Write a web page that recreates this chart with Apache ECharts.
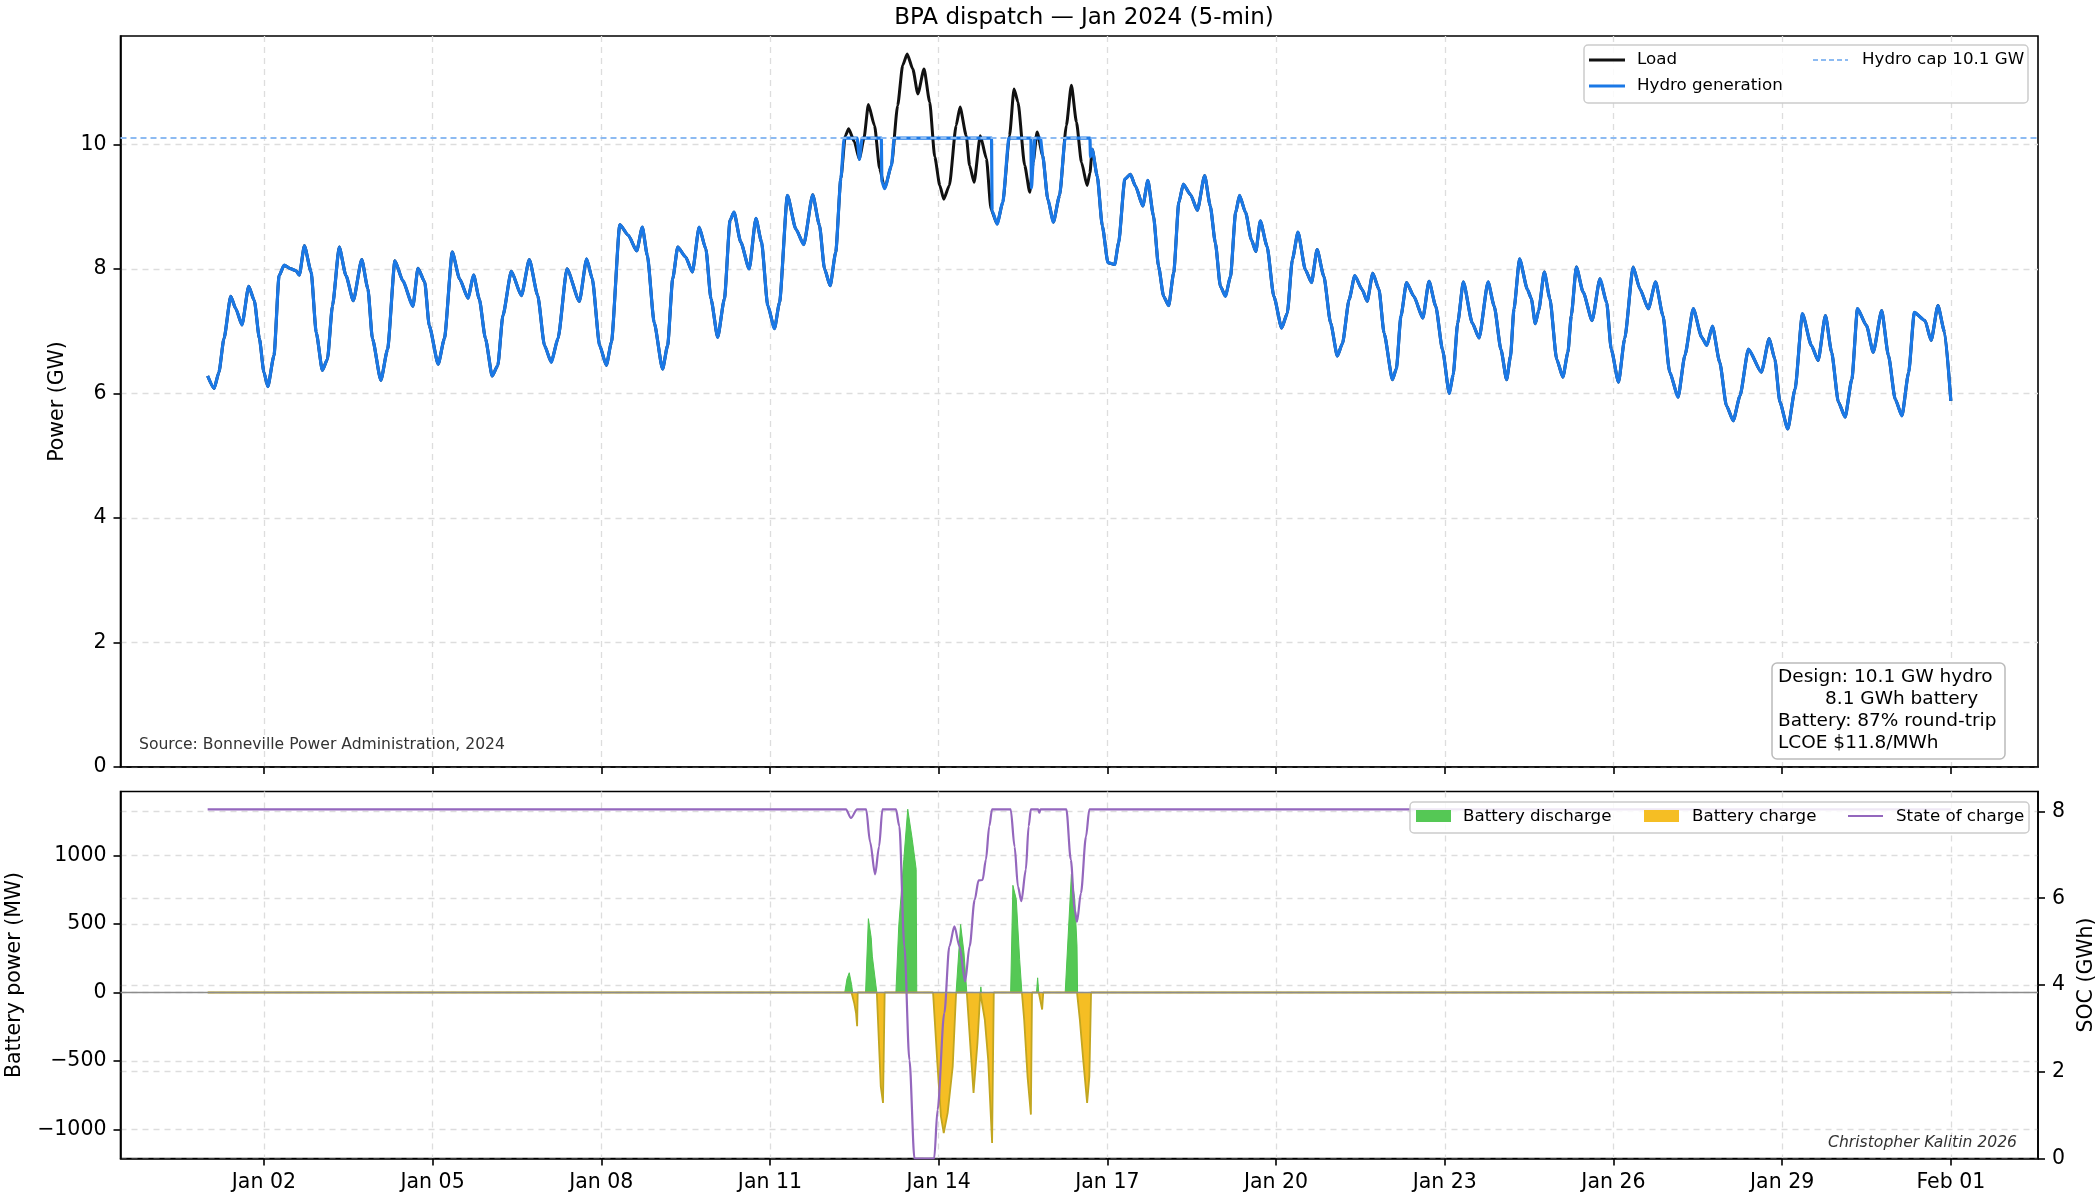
<!DOCTYPE html>
<html>
<head>
<meta charset="utf-8">
<title>BPA dispatch — Jan 2024</title>
<script src="https://cdn.jsdelivr.net/npm/echarts@6.0.0/dist/echarts.min.js"></script>
<style>
  html, body { margin: 0; padding: 0; background: #fff; }
  #main { width: 2100px; height: 1200px; }
</style>
</head>
<body>
<div id="main"></div>
<script>
// time is days since 2024-01-01 00:00
var loadDay = [
  0.00, 0.115, 0.20, 0.29, 0.41, 0.50, 0.61, 0.73, 0.83, 0.92,
  1.00, 1.07, 1.18, 1.27, 1.36, 1.48, 1.57, 1.63, 1.72, 1.84, 1.93,
  2.04, 2.13, 2.22, 2.34, 2.46, 2.59, 2.74, 2.85, 2.93,
  3.08, 3.20, 3.33, 3.47, 3.65, 3.74, 3.86, 3.94,
  4.10, 4.21, 4.35, 4.48, 4.63, 4.73, 4.83, 4.94,
  5.06, 5.16, 5.25, 5.40, 5.58, 5.72, 5.87, 5.99,
  6.11, 6.23, 6.39, 6.61, 6.74, 6.84, 6.97,
  7.09, 7.18, 7.33, 7.48, 7.63, 7.73, 7.82, 7.94,
  8.09, 8.18, 8.27, 8.36, 8.50, 8.62, 8.74, 8.86, 8.95,
  9.07, 9.19, 9.29, 9.36, 9.48, 9.63, 9.75, 9.85, 9.96,
  10.08, 10.17, 10.31, 10.46, 10.60, 10.76, 10.88, 10.97,
  11.07, 11.17, 11.26, 11.34, 11.40, 11.50, 11.59, 11.67, 11.75, 11.86, 11.95,
  12.04, 12.16, 12.27, 12.36, 12.44, 12.54, 12.63, 12.74, 12.84, 12.93,
  13.02, 13.09, 13.19, 13.31, 13.38, 13.49, 13.55, 13.63, 13.74, 13.85, 13.93,
  14.04, 14.14, 14.26, 14.34, 14.41, 14.53, 14.62, 14.68, 14.75, 14.85, 14.94,
  15.04, 15.15, 15.27, 15.36, 15.45, 15.54, 15.64, 15.69, 15.73, 15.82, 15.91,
  16.01, 16.13, 16.20, 16.31, 16.41, 16.50, 16.63, 16.72, 16.82, 16.91,
  17.00, 17.09, 17.18, 17.27, 17.35, 17.48, 17.60, 17.73, 17.83, 17.92,
  18.01, 18.10, 18.19, 18.28, 18.35, 18.46, 18.56, 18.64, 18.72, 18.84, 18.96,
  19.10, 19.20, 19.29, 19.39, 19.52, 19.63, 19.73, 19.85, 19.97,
  20.09, 20.18, 20.30, 20.40, 20.53, 20.62, 20.72, 20.83, 20.92,
  21.07, 21.14, 21.22, 21.32, 21.45, 21.61, 21.72, 21.84, 21.96,
  22.08, 22.15, 22.23, 22.33, 22.49, 22.61, 22.77, 22.88,
  23.00, 23.10, 23.17, 23.23, 23.33, 23.47, 23.54, 23.61, 23.67, 23.77, 23.87, 23.99,
  24.10, 24.19, 24.25, 24.34, 24.46, 24.62, 24.76, 24.88, 24.96,
  25.09, 25.20, 25.35, 25.47, 25.62, 25.75, 25.88,
  26.00, 26.15, 26.27, 26.42, 26.57, 26.66, 26.76, 26.89,
  27.01, 27.13, 27.25, 27.40, 27.63, 27.77, 27.87, 27.96,
  28.10, 28.23, 28.36, 28.52, 28.64, 28.77, 28.88,
  29.00, 29.12, 29.24, 29.34, 29.50, 29.62, 29.77, 29.89,
  30.01, 30.13, 30.25, 30.35, 30.54, 30.65, 30.77, 30.89, 31.00
];
var loadGW = [
  6.28, 6.08, 6.34, 6.88, 7.56, 7.36, 7.10, 7.72, 7.49, 6.88,
  6.34, 6.11, 6.61, 7.89, 8.06, 8.00, 7.97, 7.90, 8.37, 7.95, 6.98,
  6.37, 6.55, 7.41, 8.35, 7.89, 7.49, 8.15, 7.68, 6.88,
  6.21, 6.71, 8.13, 7.81, 7.40, 8.01, 7.79, 7.09,
  6.47, 6.88, 8.27, 7.84, 7.53, 7.90, 7.52, 6.88,
  6.28, 6.45, 7.25, 7.96, 7.57, 8.15, 7.57, 6.77,
  6.50, 6.88, 8.00, 7.48, 8.16, 7.84, 6.77,
  6.45, 6.82, 8.71, 8.54, 8.29, 8.67, 8.21, 7.14,
  6.39, 6.77, 7.84, 8.35, 8.19, 7.95, 8.67, 8.32, 7.52,
  6.90, 7.52, 8.78, 8.91, 8.43, 8.00, 8.81, 8.43, 7.41,
  7.04, 7.46, 9.18, 8.64, 8.39, 9.19, 8.70, 8.00,
  7.73, 8.27, 9.45, 10.14, 10.25, 10.04, 9.76, 10.09, 10.64, 10.30, 9.61,
  9.29, 9.66, 10.62, 11.27, 11.45, 11.21, 10.81, 11.21, 10.68, 9.80,
  9.34, 9.12, 9.34, 10.30, 10.60, 10.14, 9.66, 9.39, 10.14, 9.77, 8.96,
  8.72, 9.07, 10.14, 10.89, 10.68, 9.66, 9.23, 9.71, 10.20, 9.82, 9.12,
  8.75, 9.18, 10.30, 10.95, 10.36, 9.71, 9.34, 9.54, 9.92, 9.49, 8.69,
  8.10, 8.07, 8.42, 9.44, 9.52, 9.33, 9.01, 9.42, 8.85, 8.04,
  7.56, 7.41, 7.94, 9.06, 9.36, 9.19, 8.94, 9.50, 9.01, 8.42,
  7.72, 7.56, 7.88, 8.90, 9.18, 8.90, 8.47, 8.28, 8.77, 8.36, 7.56,
  7.05, 7.29, 8.15, 8.59, 7.99, 7.78, 8.31, 7.88, 7.13,
  6.60, 6.80, 7.51, 7.89, 7.67, 7.48, 7.93, 7.67, 6.97,
  6.22, 6.40, 7.24, 7.78, 7.56, 7.21, 7.80, 7.40, 6.70,
  6.00, 6.30, 7.13, 7.79, 7.13, 6.89, 7.79, 7.40,
  6.70, 6.22, 6.60, 7.35, 8.16, 7.67, 7.52, 7.12, 7.33, 7.95, 7.52, 6.55,
  6.26, 6.66, 7.25, 8.03, 7.63, 7.17, 7.84, 7.46, 6.71,
  6.18, 6.88, 8.03, 7.68, 7.36, 7.79, 7.25,
  6.34, 5.94, 6.61, 7.36, 6.90, 6.77, 7.08, 6.50,
  5.80, 5.56, 5.96, 6.71, 6.34, 6.88, 6.55, 5.86,
  5.43, 6.07, 7.28, 6.77, 6.53, 7.25, 6.66,
  5.86, 5.62, 6.23, 7.36, 7.09, 6.66, 7.33, 6.61,
  5.91, 5.64, 6.34, 7.30, 7.17, 6.85, 7.41, 6.98, 5.88
];

// hydro output where it departs from load (capped / charging the battery)
var hydroDay = [
  11.26, 11.32, 11.55, 11.59, 11.64, 11.98, 11.99, 12.04, 12.16, 12.21,
  13.94, 13.95, 14.04, 14.14, 14.25, 14.64, 14.65, 14.68, 14.71, 14.81,
  14.85, 14.94, 15.04, 15.15, 15.25, 15.69, 15.70, 15.73
];
var hydroGW = [
  9.45, 10.1, 10.1, 9.76, 10.1, 10.1, 9.40, 9.29, 9.66, 10.1,
  10.1, 8.93, 8.72, 9.07, 10.1, 10.1, 9.30, 9.71, 10.1, 10.1,
  9.82, 9.12, 8.75, 9.18, 10.1, 10.1, 9.80, 9.92
];
var hydroCap = 10.1;

// battery power, MW: positive = discharge, negative = charge
var batteryDay = [
  0,
  11.33, 11.37, 11.41, 11.45, 11.47, 11.50, 11.53, 11.55, 11.56,
  11.70, 11.75, 11.80, 11.82, 11.90, 11.93, 11.97, 12.01, 12.04,
  12.24, 12.29, 12.38, 12.45, 12.53, 12.60, 12.61,
  12.90, 12.98, 13.04, 13.09, 13.16, 13.25, 13.31,
  13.32, 13.39, 13.45, 13.50, 13.54, 13.58, 13.62, 13.69, 13.74,
  13.75, 13.76, 13.82, 13.88, 13.95, 13.98,
  14.28, 14.32, 14.38, 14.44, 14.48, 14.52, 14.58, 14.64, 14.66,
  14.74, 14.76, 14.78, 14.80, 14.84, 14.86,
  15.25, 15.36, 15.42, 15.46, 15.47, 15.51, 15.57, 15.64, 15.68, 15.71,
  31
];
var batteryMW = [
  0,
  0, 100, 144, 60, 0, -80, -148, -246, 0,
  0, 538, 400, 265, 0, -294, -684, -805, 0,
  0, 484, 970, 1336, 1117, 898, 0,
  0, -538, -903, -1024, -878, -538, 0,
  0, 496, 290, 0, -246, -489, -732, -365, 0,
  41, 0, -197, -489, -1097, 0,
  0, 781, 679, 241, 0, -197, -611, -890, 0,
  0, 107, 0, 0, -124, 0,
  0, 861, 679, 338, 0, -197, -489, -805, -611, 0,
  0
];

var socDay = [
  0, 11.35, 11.44, 11.55, 11.71, 11.78, 11.87, 11.94, 12.00,
  12.24, 12.30, 12.39, 12.48, 12.57, 12.92, 12.98, 13.10, 13.19, 13.28,
  13.37, 13.47, 13.55, 13.64, 13.71, 13.78, 13.84, 13.90, 13.95,
  14.28, 14.35, 14.41, 14.47, 14.55, 14.60, 14.64, 14.77, 14.79, 14.81,
  15.27, 15.35, 15.42, 15.46, 15.53, 15.62, 15.68, 31
];
var socGWh = [
  8.05, 8.05, 7.85, 8.05, 8.05, 7.30, 6.55, 7.19, 8.05,
  8.05, 7.66, 4.89, 2.27, 0, 0, 1.12, 3.35, 4.89, 5.35,
  4.89, 4.08, 4.89, 5.96, 6.41, 6.42, 6.89, 7.66, 8.05,
  8.05, 7.19, 6.27, 5.93, 6.66, 7.66, 8.05, 8.05, 7.97, 8.05,
  8.05, 6.89, 5.73, 5.46, 6.12, 7.42, 8.05, 8.05
];

var tickDay = [1, 4, 7, 10, 13, 16, 19, 22, 25, 28, 31];
var tickLabel = ['Jan 02', 'Jan 05', 'Jan 08', 'Jan 11', 'Jan 14', 'Jan 17',
                 'Jan 20', 'Jan 23', 'Jan 26', 'Jan 29', 'Feb 01'];
var powerTicks = [0, 2, 4, 6, 8, 10];
var batteryTicks = [-1000, -500, 0, 500, 1000];
var socTicks = [0, 2, 4, 6, 8];

var FONT = 'DejaVu Sans';

function zip(xs, ys) {
    return xs.map(function (x, i) { return [x, ys[i]]; });
}

var loadData = zip(loadDay, loadGW);
var hydroStart = hydroDay[0], hydroEnd = hydroDay[hydroDay.length - 1];
var hydroData = loadData.filter(function (p) { return p[0] < hydroStart; })
    .concat(zip(hydroDay, hydroGW))
    .concat(loadData.filter(function (p) { return p[0] > hydroEnd; }));
var dischargeData = batteryDay.map(function (d, i) { return [d, Math.max(batteryMW[i], 0)]; });
var chargeData = batteryDay.map(function (d, i) { return [d, Math.min(batteryMW[i], 0)]; });
var socData = zip(socDay, socGWh);

var axisColor = '#000';
var gridLine = { show: true, lineStyle: { color: '#dddddd', type: [6, 5], width: 1.3 } };

function dayAxis(gridIndex, showLabels) {
    return {
        type: 'value', gridIndex: gridIndex, min: -1.55, max: 32.55,
        axisLine: { show: true, onZero: false, lineStyle: { color: axisColor, width: 1.6 } },
        axisTick: { show: true, customValues: tickDay, length: 7, lineStyle: { color: axisColor, width: 1.6 } },
        axisLabel: {
            show: showLabels, customValues: tickDay, margin: 14,
            fontFamily: FONT, fontSize: 20.5, color: '#000',
            formatter: function (v) { return tickLabel[tickDay.indexOf(v)]; }
        },
        splitLine: gridLine
    };
}

function valueAxis(gridIndex, opts) {
    return {
        type: 'value', gridIndex: gridIndex, min: opts.min, max: opts.max,
        position: opts.position || 'left',
        name: opts.name, nameLocation: 'middle', nameGap: opts.nameGap, nameRotate: 90,
        nameTextStyle: { fontFamily: FONT, fontSize: 20.5, color: '#000' },
        axisLine: { show: true, onZero: false, lineStyle: { color: axisColor, width: 1.6 } },
        axisTick: { show: true, customValues: opts.ticks, length: 7, lineStyle: { color: axisColor, width: 1.6 } },
        axisLabel: {
            customValues: opts.ticks, margin: 14, fontFamily: FONT, fontSize: 20.5, color: '#000',
            formatter: function (v) { return String(v).replace('-', '\u2212'); }
        },
        splitLine: gridLine
    };
}

var myChart = echarts.init(document.getElementById('main'));

var option = {
    animation: false,
    backgroundColor: '#fff',
    textStyle: { fontFamily: FONT },
    title: {
        text: 'BPA dispatch \u2014 Jan 2024 (5-min)',
        left: 1079, top: 2, textAlign: 'center',
        textStyle: { fontFamily: FONT, fontSize: 23, fontWeight: 'normal', color: '#000' }
    },
    grid: [
        { left: 120.5, top: 36, width: 1917.5, height: 731, show: true, borderColor: '#000', borderWidth: 1.6, outerBoundsMode: 'none', containLabel: false },
        { left: 120.5, top: 791.5, width: 1917.5, height: 367, show: true, borderColor: '#000', borderWidth: 1.6, outerBoundsMode: 'none', containLabel: false }
    ],
    xAxis: [dayAxis(0, false), dayAxis(1, true)],
    yAxis: [
        valueAxis(0, { min: 0, max: 11.74, ticks: powerTicks, name: 'Power (GW)', nameGap: 52 }),
        valueAxis(1, { min: -1210, max: 1465, ticks: batteryTicks, name: 'Battery power (MW)', nameGap: 95 }),
        valueAxis(1, { min: 0, max: 8.46, ticks: socTicks, name: 'SOC (GWh)', nameGap: 35, position: 'right' })
    ],
    series: [
        {
            name: 'Load', type: 'line', xAxisIndex: 0, yAxisIndex: 0, data: loadData,
            showSymbol: false, smooth: 0.2, smoothMonotone: 'x', z: 2,
            lineStyle: { color: '#111111', width: 3 }
        },
        {
            name: 'Hydro generation', type: 'line', xAxisIndex: 0, yAxisIndex: 0, data: hydroData,
            showSymbol: false, smooth: 0.2, smoothMonotone: 'x', z: 3,
            lineStyle: { color: '#1a78e6', width: 3.2 },
            markLine: {
                silent: true, symbol: 'none', label: { show: false },
                lineStyle: { color: '#8dbbf2', type: [6, 4], width: 2 },
                data: [{ yAxis: hydroCap }]
            }
        },
        {
            name: 'Battery discharge', type: 'line', xAxisIndex: 1, yAxisIndex: 1, data: dischargeData,
            showSymbol: false, z: 2,
            lineStyle: { color: '#4fc44f', width: 1 },
            areaStyle: { color: '#55c855', opacity: 1 },
            markLine: {
                silent: true, symbol: 'none', label: { show: false },
                lineStyle: { color: '#8c8c8c', type: 'solid', width: 1.3 },
                data: [{ yAxis: 0 }]
            }
        },
        {
            name: 'Battery charge', type: 'line', xAxisIndex: 1, yAxisIndex: 1, data: chargeData,
            showSymbol: false, z: 3,
            lineStyle: { color: '#c2a620', width: 1.8 },
            areaStyle: { color: '#f5be24', opacity: 1 }
        },
        {
            name: 'State of charge', type: 'line', xAxisIndex: 1, yAxisIndex: 2, data: socData,
            showSymbol: false, smooth: 0.3, smoothMonotone: 'x', z: 4,
            lineStyle: { color: '#9467bd', width: 2.2 }
        }
    ],
    graphic: { elements: [
        // top legend
        { type: 'rect', z: 100, shape: { x: 1584, y: 45, width: 444, height: 58, r: 4 },
          style: { fill: 'rgba(255,255,255,0.85)', stroke: '#cccccc', lineWidth: 1.5 } },
        { type: 'line', z: 101, shape: { x1: 1589, y1: 60, x2: 1625, y2: 60 }, style: { stroke: '#111111', lineWidth: 3 } },
        { type: 'line', z: 101, shape: { x1: 1589, y1: 86, x2: 1625, y2: 86 }, style: { stroke: '#1a78e6', lineWidth: 3 } },
        { type: 'line', z: 101, shape: { x1: 1813, y1: 60, x2: 1848, y2: 60 }, style: { stroke: '#8dbbf2', lineWidth: 2, lineDash: [5, 3] } },
        { type: 'text', z: 101, x: 1637, y: 60, style: { text: 'Load', font: '16.7px "DejaVu Sans"', fill: '#000', verticalAlign: 'middle', textVerticalAlign: 'middle' } },
        { type: 'text', z: 101, x: 1637, y: 86, style: { text: 'Hydro generation', font: '16.7px "DejaVu Sans"', fill: '#000', verticalAlign: 'middle', textVerticalAlign: 'middle' } },
        { type: 'text', z: 101, x: 1862, y: 60, style: { text: 'Hydro cap 10.1 GW', font: '16.7px "DejaVu Sans"', fill: '#000', verticalAlign: 'middle', textVerticalAlign: 'middle' } },
        // bottom legend
        { type: 'rect', z: 100, shape: { x: 1410, y: 802, width: 619, height: 31, r: 4 },
          style: { fill: 'rgba(255,255,255,0.85)', stroke: '#cccccc', lineWidth: 1.5 } },
        { type: 'rect', z: 101, shape: { x: 1416, y: 810, width: 35, height: 12 }, style: { fill: '#55c855' } },
        { type: 'rect', z: 101, shape: { x: 1644, y: 810, width: 35, height: 12 }, style: { fill: '#f5be24' } },
        { type: 'line', z: 101, shape: { x1: 1848, y1: 816, x2: 1883, y2: 816 }, style: { stroke: '#9467bd', lineWidth: 2.2 } },
        { type: 'text', z: 101, x: 1463, y: 817, style: { text: 'Battery discharge', font: '16.7px "DejaVu Sans"', fill: '#000', verticalAlign: 'middle', textVerticalAlign: 'middle' } },
        { type: 'text', z: 101, x: 1692, y: 817, style: { text: 'Battery charge', font: '16.7px "DejaVu Sans"', fill: '#000', verticalAlign: 'middle', textVerticalAlign: 'middle' } },
        { type: 'text', z: 101, x: 1896, y: 817, style: { text: 'State of charge', font: '16.7px "DejaVu Sans"', fill: '#000', verticalAlign: 'middle', textVerticalAlign: 'middle' } },
        // design box
        { type: 'rect', z: 100, shape: { x: 1772, y: 663, width: 233, height: 96, r: 5 },
          style: { fill: '#fff', stroke: '#bbbbbb', lineWidth: 1.5 } },
        { type: 'text', z: 101, x: 1778, y: 666, style: {
            text: 'Design: 10.1 GW hydro\n\u00a0\u00a0\u00a0\u00a0\u00a0\u00a0\u00a0\u00a08.1 GWh battery\nBattery: 87% round-trip\nLCOE $11.8/MWh',
            font: '18.5px "DejaVu Sans"', lineHeight: 22, fill: '#000', verticalAlign: 'top', textVerticalAlign: 'top' } },
        // notes
        { type: 'text', z: 101, x: 139, y: 745, style: { text: 'Source: Bonneville Power Administration, 2024', font: '15.6px "DejaVu Sans"', fill: '#333333', verticalAlign: 'middle', textVerticalAlign: 'middle' } },
        { type: 'text', z: 101, x: 2017, y: 1143, style: { text: 'Christopher Kalitin 2026', font: 'italic 15.6px "DejaVu Sans"', fill: '#333333', align: 'right', textAlign: 'right', verticalAlign: 'middle', textVerticalAlign: 'middle' } }
    ] }
};

option && myChart.setOption(option);
</script>
</body>
</html>
